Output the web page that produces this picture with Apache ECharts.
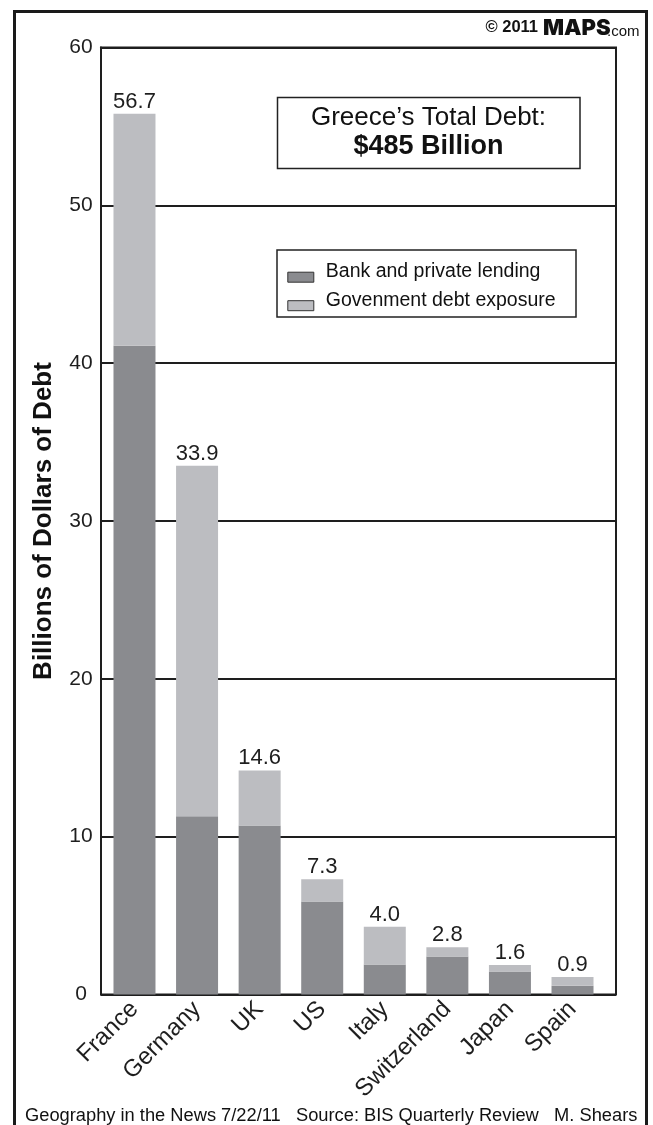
<!DOCTYPE html>
<html>
<head>
<meta charset="utf-8">
<script src="https://cdn.jsdelivr.net/npm/echarts@6/dist/echarts.min.js"></script>
<style>
  html, body { margin: 0; padding: 0; background: #fff; }
  #chart { width: 653px; height: 1125px; }
</style>
</head>
<body>
<div id="chart"></div>
<script>
// ---- data ----
const categories = ['France', 'Germany', 'UK', 'US', 'Italy', 'Switzerland', 'Japan', 'Spain'];
const bankLending = [41.1, 11.3, 10.7, 5.9, 1.9, 2.4, 1.45, 0.55];
const govExposure = [14.7, 22.2, 3.5, 1.4, 2.4, 0.6, 0.42, 0.56];
const totalLabels = ['56.7', '33.9', '14.6', '7.3', '4.0', '2.8', '1.6', '0.9'];
const yMin = 0, yMax = 60, yStep = 10;
const seriesNames = ['Bank and private lending', 'Govenment debt exposure'];

const FONT = '"Liberation Sans", Arial, Helvetica, sans-serif';
const LOGO_FONT = 'Inter, "Liberation Sans", Arial, sans-serif';
const INK = '#1e1e1e';
const DARK = '#8a8b8f';
const LIGHT = '#bcbdc1';

const chart = echarts.init(document.getElementById('chart'), null, { renderer: 'canvas' });

const option = {
  backgroundColor: '#fff',
  animation: false,
  textStyle: { fontFamily: FONT },
  grid: [
    { left: 101, top: 47.5, width: 515, height: 947, show: true, borderColor: INK, borderWidth: 2, backgroundColor: 'transparent' },
    { left: 103.2, top: 47.5, width: 500.6, height: 947 }
  ],
  xAxis: [
    { type: 'value', gridIndex: 0, show: false, min: 0, max: 1 },
    {
      type: 'category', gridIndex: 1, data: categories,
      axisLine: { show: false }, axisTick: { show: false },
      axisLabel: { rotate: 45, fontSize: 24, color: INK, margin: 11, fontFamily: FONT, interval: 0 }
    }
  ],
  yAxis: [
    {
      type: 'value', gridIndex: 0, min: yMin, max: yMax, interval: yStep,
      axisLine: { show: true, lineStyle: { color: INK, width: 2 } },
      axisTick: { show: false },
      axisLabel: { fontSize: 21, color: INK, margin: 20, align: 'center', fontFamily: FONT },
      splitLine: { show: true, lineStyle: { color: INK, width: 2 } }
    },
    { type: 'value', gridIndex: 1, min: yMin, max: yMax, interval: yStep, show: false, splitLine: { show: false } }
  ],
  legend: {
    orient: 'vertical',
    left: 287.3, top: 260.7,
    padding: 0,
    itemGap: 6.5,
    itemWidth: 26, itemHeight: 21,
    icon: 'path://M0,0M0,11L26,11L26,21L0,21Z',
    itemStyle: { borderColor: '#333', borderWidth: 1 },
    textStyle: { fontSize: 19.5, color: '#111', fontFamily: FONT, padding: [0, 0, 0, 7] },
    data: seriesNames
  },
  series: [
    {
      name: seriesNames[0], type: 'bar', stack: 'debt', xAxisIndex: 1, yAxisIndex: 1,
      barWidth: 42, itemStyle: { color: DARK },
      data: bankLending
    },
    {
      name: seriesNames[1], type: 'bar', stack: 'debt', xAxisIndex: 1, yAxisIndex: 1,
      barWidth: 42, itemStyle: { color: LIGHT },
      label: {
        show: true, position: 'top', distance: 1,
        fontSize: 22, color: INK, fontFamily: FONT,
        formatter: (p) => totalLabels[p.dataIndex]
      },
      data: govExposure
    }
  ],
  graphic: [
    // outer frame
    { type: 'rect', z: 100, silent: true, shape: { x: 14.5, y: 11.5, width: 632, height: 1200 }, style: { fill: 'none', stroke: '#1a1a1a', lineWidth: 3 } },
    // copyright
    { type: 'text', z: 100, x: 538, y: 27.5, style: { text: '© 2011', font: 'bold 16.5px ' + FONT, fill: '#111', align: 'right', verticalAlign: 'middle' } },
    { type: 'text', z: 100, x: 543, y: 28.5, style: { text: 'MAPS', font: '900 22px ' + LOGO_FONT, fill: '#111', align: 'left', verticalAlign: 'middle' } },
    { type: 'text', z: 100, x: 607, y: 32, style: { text: '.com', font: '15px ' + FONT, fill: '#111', align: 'left', verticalAlign: 'middle' } },
    // Greece total box
    { type: 'rect', z: 50, silent: true, shape: { x: 277.5, y: 97.5, width: 302.5, height: 71 }, style: { fill: '#fff', stroke: '#222', lineWidth: 1.5 } },
    { type: 'text', z: 51, x: 428.5, y: 118, style: { text: 'Greece’s Total Debt:', font: '26px ' + FONT, fill: '#111', align: 'center', verticalAlign: 'middle' } },
    { type: 'text', z: 51, x: 428.5, y: 146.5, style: { text: '$485 Billion', font: 'bold 27px ' + FONT, fill: '#111', align: 'center', verticalAlign: 'middle' } },
    // legend box
    { type: 'rect', z: 1, silent: true, shape: { x: 277, y: 250, width: 299, height: 67 }, style: { fill: '#fff', stroke: '#222', lineWidth: 1.5 } },
    // y axis title
    { type: 'text', z: 100, x: 44, y: 521, rotation: Math.PI / 2, style: { text: 'Billions of Dollars of Debt', font: 'bold 26px ' + FONT, fill: '#111', align: 'center', verticalAlign: 'middle' } },
    // footer
    { type: 'text', z: 100, x: 25, y: 1116, style: { text: 'Geography in the News 7/22/11   Source: BIS Quarterly Review   M. Shears', font: '18.3px ' + FONT, fill: '#111', align: 'left', verticalAlign: 'middle' } }
  ]
};
chart.setOption(option);
</script>
</body>
</html>
